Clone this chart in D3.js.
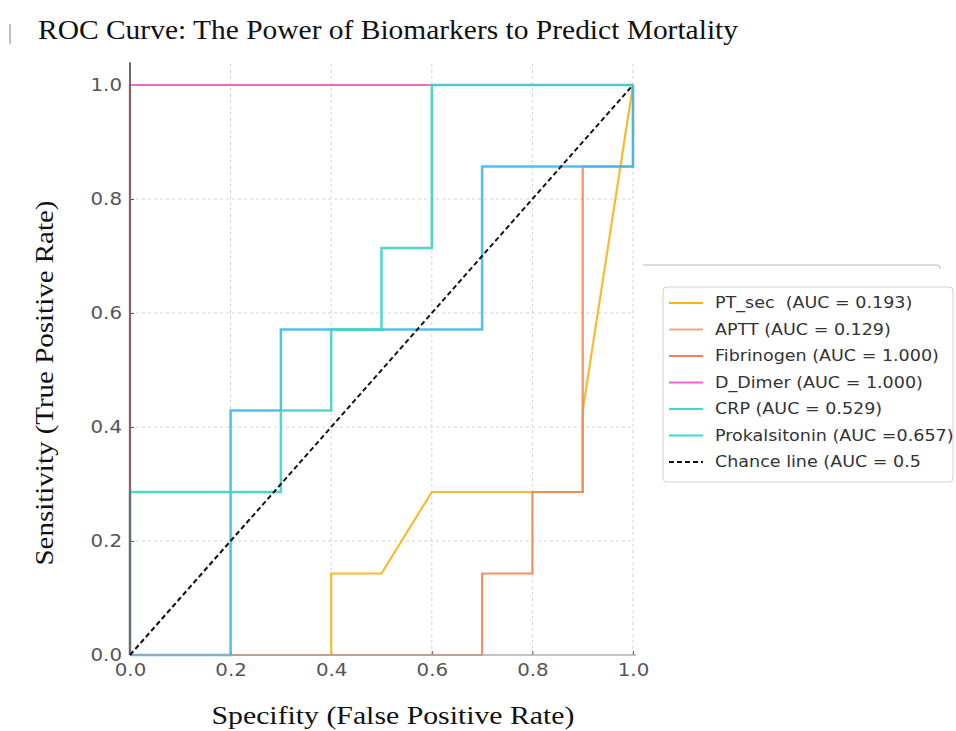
<!DOCTYPE html>
<html>
<head>
<meta charset="utf-8">
<script src="https://cdn.jsdelivr.net/npm/d3@7"></script>
<style>
  body { margin: 0; background: #fff; }
  svg { display: block; }
</style>
</head>
<body>
<div class="chart"></div>
<script>
// ROC points for each biomarker (false positive rate, true positive rate)
var seriesNames = ["PT_sec", "APTT", "Fibrinogen", "D_Dimer", "CRP", "Prokalsitonin"];
var legendLabels = ["PT_sec  (AUC = 0.193)", "APTT (AUC = 0.129)", "Fibrinogen (AUC = 1.000)",
  "D_Dimer (AUC = 1.000)", "CRP (AUC = 0.529)", "Prokalsitonin (AUC =0.657)", "Chance line (AUC = 0.5"];

var ptFpr   = [0, 0.4, 0.4, 0.5, 0.6, 0.9, 0.9, 1.0];
var ptTpr   = [0, 0, 0.143, 0.143, 0.286, 0.286, 0.429, 1.0];
var apttFpr = [0, 0.7, 0.7, 0.8, 0.8, 0.9, 0.9, 1.0, 1.0];
var apttTpr = [0, 0, 0.143, 0.143, 0.286, 0.286, 0.857, 0.857, 1.0];
var fibFpr  = [0, 0, 1.0];
var fibTpr  = [0, 1.0, 1.0];
var ddFpr   = [0, 0, 1.0];
var ddTpr   = [0, 1.0, 1.0];
var crpFpr  = [0, 0.2, 0.2, 0.3, 0.3, 0.7, 0.7, 1.0, 1.0];
var crpTpr  = [0, 0, 0.429, 0.429, 0.571, 0.571, 0.857, 0.857, 1.0];
var pctFpr  = [0, 0, 0.3, 0.3, 0.4, 0.4, 0.5, 0.5, 0.6, 0.6, 1.0];
var pctTpr  = [0, 0.286, 0.286, 0.429, 0.429, 0.571, 0.571, 0.714, 0.714, 1.0, 1.0];
var chanceFpr = [0, 1];
var chanceTpr = [0, 1];

var tickValues = [0, 0.2, 0.4, 0.6, 0.8, 1.0];

var lineColors   = ["#f7b21a", "#f38552", "#f47a5a", "#f266cc", "#3bb9ef", "#3fd3c6"];
var legendColors = ["#f7b21a", "#f5a583", "#f47e62", "#f266cc", "#3fd8d8", "#3fd8d8"];

var svgWidth = 956, svgHeight = 731;
var svg = d3.select(".chart").append("svg")
  .attr("width", svgWidth)
  .attr("height", svgHeight);

var x = d3.scaleLinear().domain([0, 1]).range([130, 633]);
var y = d3.scaleLinear().domain([0, 1]).range([655, 85]);

// the original picture is a bit stretched sideways, so widen the text
function stretch(sel, k) {
  sel.each(function() {
    var len = this.getComputedTextLength();
    d3.select(this).attr("textLength", len * k).attr("lengthAdjust", "spacingAndGlyphs");
  });
}

// zip the arrays into point lists
function pts(fx, ty) { return fx.map((v, i) => [v, ty[i]]); }
var series = [
  pts(ptFpr, ptTpr), pts(apttFpr, apttTpr), pts(fibFpr, fibTpr),
  pts(ddFpr, ddTpr), pts(crpFpr, crpTpr), pts(pctFpr, pctTpr)
];

// title + little mark left of it
svg.append("line")
  .attr("x1", 10).attr("x2", 10).attr("y1", 24).attr("y2", 44)
  .attr("stroke", "#aaa").attr("stroke-width", 1.5);
svg.append("text")
  .attr("x", 38).attr("y", 39)
  .attr("font-family", "Liberation Serif, Times New Roman, serif")
  .attr("font-size", 27)
  .attr("fill", "#111")
  .attr("textLength", 700).attr("lengthAdjust", "spacingAndGlyphs")
  .text("ROC Curve: The Power of Biomarkers to Predict Mortality");

// grid
var grid = svg.append("g").attr("stroke", "#d4d4d4").attr("stroke-dasharray", "3,3").attr("stroke-width", 1);
grid.selectAll(".gx").data(tickValues.slice(1)).enter().append("line")
  .attr("x1", d => x(d)).attr("x2", d => x(d))
  .attr("y1", y(0)).attr("y2", y(1.04));
grid.selectAll(".gy").data(tickValues.slice(1, 5)).enter().append("line")
  .attr("y1", d => y(d)).attr("y2", d => y(d))
  .attr("x1", x(0)).attr("x2", x(1));

// axes
var bottomAxis = d3.axisBottom(x).tickValues(tickValues).tickFormat(d3.format(".1f")).tickSize(-4).tickPadding(8);
var leftAxis = d3.axisLeft(y).tickValues(tickValues).tickFormat(d3.format(".1f")).tickSize(-4).tickPadding(8);

var gx = svg.append("g").attr("transform", `translate(0, ${y(0)})`).call(bottomAxis);
var gy = svg.append("g").attr("transform", `translate(${x(0)}, 0)`).call(leftAxis);
[gx, gy].forEach(function(g) {
  g.select(".domain").remove();
  g.selectAll("text").attr("font-family", "DejaVu Sans, sans-serif").attr("font-size", 18).attr("fill", "#555");
  stretch(g.selectAll("text"), 1.1);
  g.selectAll(".tick line").attr("stroke", "#555");
});

// curves
var line = d3.line().x(d => x(d[0])).y(d => y(d[1]));
svg.append("g").selectAll("path").data(series).enter().append("path")
  .attr("d", line)
  .attr("fill", "none")
  .attr("stroke", (d, i) => lineColors[i])
  .attr("stroke-width", (d, i) => i >= 4 ? 2.5 : 2.2)
  .attr("stroke-opacity", 0.9);

// spines (on top of the curves like in the original)
svg.append("line")
  .attr("x1", x(0)).attr("x2", x(1) + 3).attr("y1", y(0)).attr("y2", y(0))
  .attr("stroke", "#aaaaaa").attr("stroke-width", 2).attr("stroke-opacity", 0.7);
svg.append("line")
  .attr("x1", x(0)).attr("x2", x(0)).attr("y1", y(0)).attr("y2", y(1.04))
  .attr("stroke", "#6e6a6e").attr("stroke-width", 2);

svg.append("path")
  .datum(pts(chanceFpr, chanceTpr))
  .attr("d", line)
  .attr("fill", "none")
  .attr("stroke", "#111")
  .attr("stroke-width", 2)
  .attr("stroke-dasharray", "5,3");

// axis titles
var ylab = svg.append("text")
  .attr("transform", "translate(53, 383) rotate(-90)")
  .attr("text-anchor", "middle")
  .attr("font-family", "Liberation Serif, Times New Roman, serif")
  .attr("font-size", 26)
  .attr("fill", "#111")
  .attr("textLength", 365).attr("lengthAdjust", "spacingAndGlyphs")
  .text("Sensitivity (True Positive Rate)");
svg.append("text")
  .attr("x", 393).attr("y", 724)
  .attr("text-anchor", "middle")
  .attr("font-family", "Liberation Serif, Times New Roman, serif")
  .attr("font-size", 26)
  .attr("fill", "#111")
  .attr("textLength", 363).attr("lengthAdjust", "spacingAndGlyphs")
  .text("Specifity (False Positive Rate)");

// stray box edge above legend
svg.append("path")
  .attr("d", "M643,265 L936,265 Q940,265 940,269")
  .attr("fill", "none").attr("stroke", "#cfcfcf").attr("stroke-width", 1.5);

// legend
var legend = svg.append("g").attr("transform", "translate(663, 287)");
legend.append("rect")
  .attr("width", 290).attr("height", 195).attr("rx", 4)
  .attr("fill", "#fff").attr("stroke", "#d0d0d0").attr("stroke-width", 1);
var rows = legend.selectAll(".row").data(legendLabels).enter().append("g")
  .attr("transform", (d, i) => `translate(0, ${16 + i * 26.5})`);
rows.append("line")
  .attr("x1", 6).attr("x2", 40).attr("y1", 0).attr("y2", 0)
  .attr("stroke", (d, i) => i < 6 ? legendColors[i] : "#111")
  .attr("stroke-width", 2)
  .attr("stroke-dasharray", (d, i) => i < 6 ? null : "5,3");
var ltext = rows.append("text")
  .attr("x", 52).attr("y", 0).attr("dy", "0.35em")
  .attr("font-family", "DejaVu Sans, sans-serif")
  .attr("font-size", 15.5)
  .attr("fill", "#333")
  .style("white-space", "pre")
  .text(d => d);
stretch(ltext, 1.13);
</script>
</body>
</html>
